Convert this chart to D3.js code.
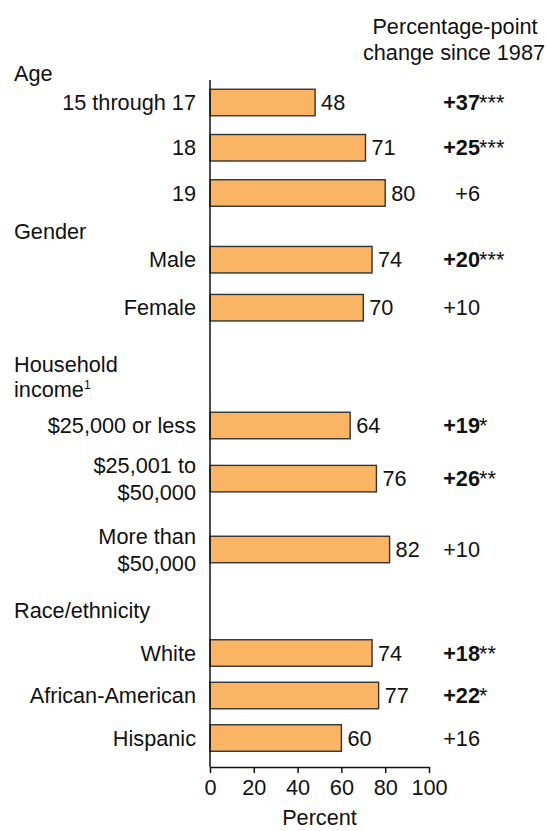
<!DOCTYPE html>
<html>
<head>
<meta charset="utf-8">
<script src="https://cdn.jsdelivr.net/npm/d3@7"></script>
<style>
	body { margin: 0; background: #fff; }
	text { font-family: "Liberation Sans", Arial, sans-serif; fill: #111; }
</style>
</head>
<body>
<script>
//group headings, one entry per group (line breaks with \n)
var groups = ["Age", "Gender", "Household\nincome", "Race/ethnicity"];
var groupNotes = ["", "", "1", ""];

//rows of the chart
var categories = ["15 through 17", "18", "19", "Male", "Female", "$25,000 or less",
	"$25,001 to\n$50,000", "More than\n$50,000", "White", "African-American", "Hispanic"];
var rowGroup = [0, 0, 0, 1, 1, 2, 2, 2, 3, 3, 3];
var values = [48, 71, 80, 74, 70, 64, 76, 82, 74, 77, 60];
var changes = [37, 25, 6, 20, 10, 19, 26, 10, 18, 22, 16];
var stars = ["***", "***", "", "***", "", "*", "**", "", "**", "*", ""];
var xTicks = [0, 20, 40, 60, 80, 100];

window.onload = function(){
	var w = 548, h = 831;
	var fs = 21.7;

	//layout: first and last row centre of each group, and heading baseline
	var rowRange = [[102.5, 193], [259.7, 307.7], [425.5, 549.5], [653, 738]];
	var headY = [81, 239, 397, 617.7];
	var barH = 26.5;

	var rows = categories.map(function(c, i){
		return {name: c, group: rowGroup[i], value: values[i], change: changes[i], stars: stars[i],
			lines: c.split("\n").length};
	});

	//slot of each row inside its group: taller (two-line) labels take more room
	groups.forEach(function(g, gi){
		var s = 0, prev = null;
		rows.filter(function(d){ return d.group === gi; }).forEach(function(d){
			if (prev) s += (prev.lines + d.lines) / 2;
			d.slot = s;
			prev = d;
		});
	});

	var container = d3.select("body")
		.append("svg")
		.attr("width", w)
		.attr("height", h)
		.attr("class", "container");

	var x = d3.scaleLinear()
		.domain([0, 100])
		.range([210, 429]);

	//one linear scale per group, slot -> row centre
	var yScales = groups.map(function(g, gi){
		var maxSlot = d3.max(rows, function(d){ return d.group === gi ? d.slot : 0; });
		return d3.scaleLinear()
			.domain([0, maxSlot])
			.range(rowRange[gi]);
	});
	function y(d){
		return yScales[d.group](d.slot);
	}

	//column heading
	container.append("text")
		.attr("class", "colHead")
		.attr("text-anchor", "middle")
		.attr("x", 455)
		.attr("y", 33.5)
		.style("font-size", fs + "px")
		.text("Percentage-point");
	container.append("text")
		.attr("class", "colHead")
		.attr("text-anchor", "middle")
		.attr("x", 454)
		.attr("y", 59.5)
		.style("font-size", fs + "px")
		.text("change since 1987");

	//group headings
	var heads = container.selectAll(".groupHead")
		.data(groups)
		.enter()
		.append("text")
		.attr("class", "groupHead")
		.attr("x", 14)
		.attr("y", function(d, i){
			return headY[i] - (d.split("\n").length - 1) * 25;
		})
		.style("font-size", fs + "px");
	heads.each(function(d, i){
		var t = d3.select(this);
		d.split("\n").forEach(function(line, k){
			t.append("tspan")
				.attr("x", 14)
				.attr("dy", k === 0 ? 0 : 25)
				.text(line);
		});
		if (groupNotes[i]) {
			t.append("tspan")
				.attr("dy", -8)
				.style("font-size", "12px")
				.text(groupNotes[i]);
		}
	});

	//bars
	container.selectAll(".bar")
		.data(rows)
		.enter()
		.append("rect")
		.attr("class", "bar")
		.attr("x", x(0))
		.attr("y", function(d){ return y(d) - barH / 2; })
		.attr("width", function(d){ return x(d.value) - x(0); })
		.attr("height", barH)
		.style("fill", "#fbb464")
		.style("stroke", "#333")
		.style("stroke-width", 1.4);

	//row labels
	var labels = container.selectAll(".rowLabel")
		.data(rows)
		.enter()
		.append("text")
		.attr("class", "rowLabel")
		.attr("text-anchor", "end")
		.attr("y", function(d){
			return d.lines > 1 ? y(d) - 6 : y(d) + 7.5;
		})
		.style("font-size", fs + "px");
	labels.each(function(d){
		var t = d3.select(this);
		d.name.split("\n").forEach(function(line, k){
			t.append("tspan")
				.attr("x", 196)
				.attr("dy", k === 0 ? 0 : 27)
				.text(line);
		});
	});

	//value labels
	container.selectAll(".valLabel")
		.data(rows)
		.enter()
		.append("text")
		.attr("class", "valLabel")
		.attr("x", function(d){ return x(d.value) + 6; })
		.attr("y", function(d){ return y(d) + 7.5; })
		.style("font-size", fs + "px")
		.text(function(d){ return d.value; });

	//change column
	container.selectAll(".change")
		.data(rows)
		.enter()
		.append("text")
		.attr("class", "change")
		.attr("text-anchor", "end")
		.attr("x", 480)
		.attr("y", function(d){ return y(d) + 7.5; })
		.style("font-size", fs + "px")
		.style("font-weight", function(d){ return d.stars ? "bold" : "normal"; })
		.text(function(d){ return "+" + d.change; });

	container.selectAll(".stars")
		.data(rows.filter(function(d){ return d.stars; }))
		.enter()
		.append("text")
		.attr("class", "stars")
		.attr("x", 479)
		.attr("y", function(d){ return y(d) + 7.5; })
		.style("font-size", fs + "px")
		.text(function(d){ return d.stars; });

	//vertical axis line
	container.append("line")
		.attr("class", "yLine")
		.attr("x1", x(0))
		.attr("x2", x(0))
		.attr("y1", 80)
		.attr("y2", 767)
		.style("stroke", "#111")
		.style("stroke-width", 1.5);

	//x axis
	var xAxis = d3.axisBottom(x)
		.tickValues(xTicks)
		.tickSize(6)
		.tickSizeOuter(0)
		.tickPadding(6.5);

	var axis = container.append("g")
		.attr("class", "axis")
		.attr("transform", "translate(0,767)")
		.call(xAxis);
	axis.selectAll("path, line")
		.style("stroke", "#111")
		.style("stroke-width", 1.5);
	axis.selectAll("text")
		.style("font-size", fs + "px")
		.style("font-family", "'Liberation Sans', Arial, sans-serif")
		.style("fill", "#111");

	container.append("text")
		.attr("class", "xTitle")
		.attr("text-anchor", "middle")
		.attr("x", (x(0) + x(100)) / 2)
		.attr("y", 825)
		.style("font-size", fs + "px")
		.text("Percent");
};
</script>
</body>
</html>
